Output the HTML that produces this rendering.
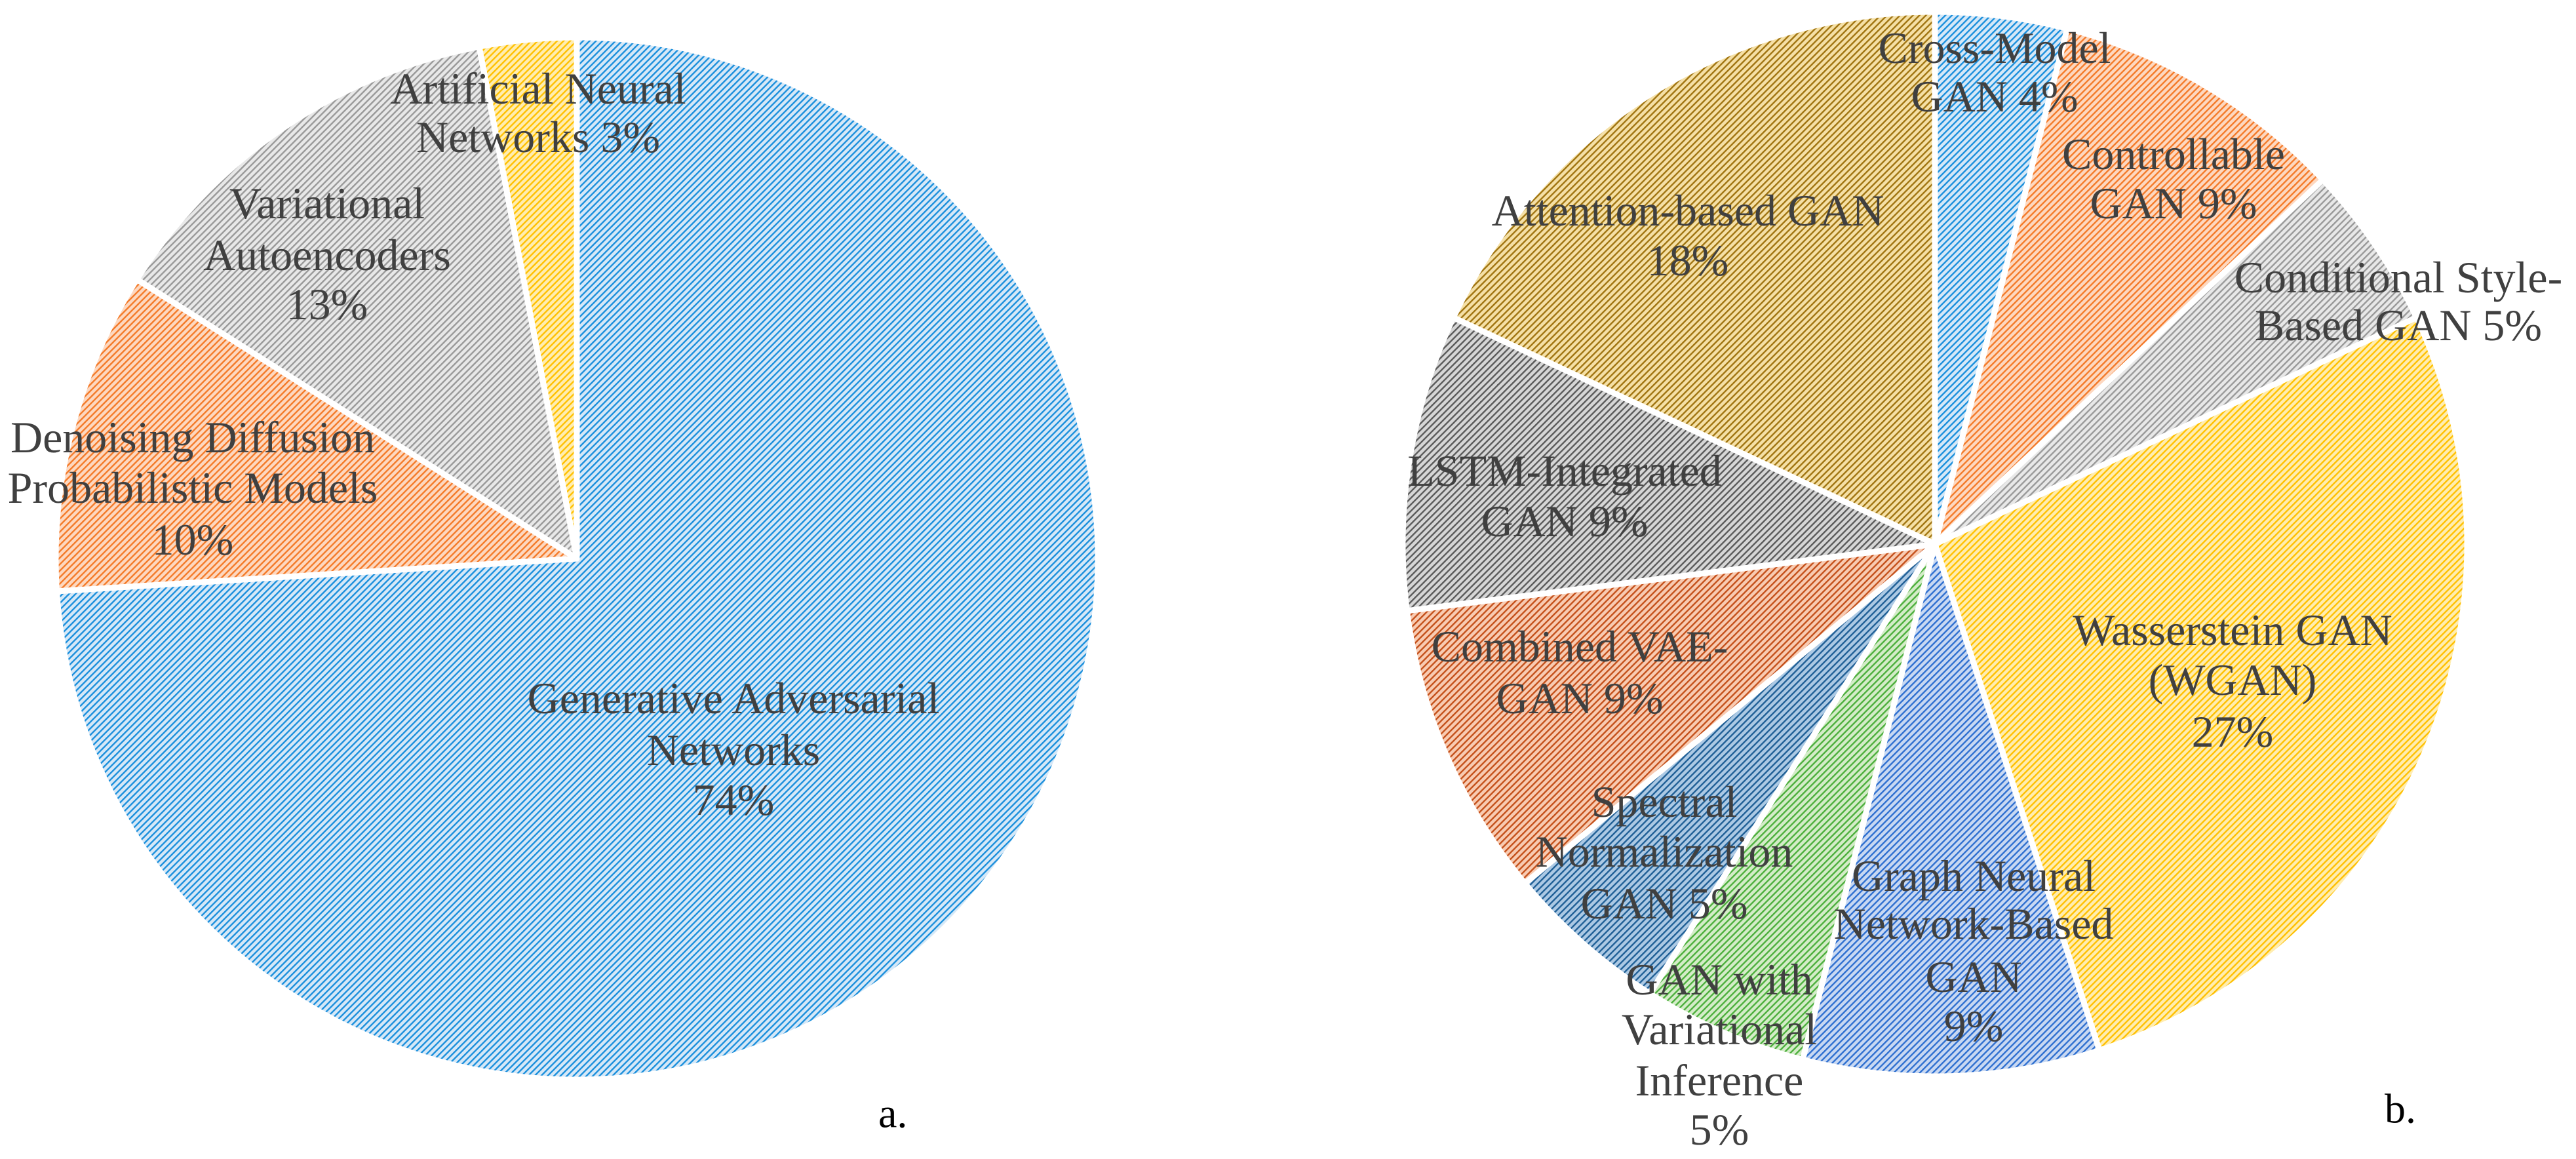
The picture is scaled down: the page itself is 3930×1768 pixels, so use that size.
<!DOCTYPE html>
<html><head><meta charset="utf-8"><style>
html,body{margin:0;padding:0;background:#fff;}
svg{display:block;}
svg text{font-family:"Liberation Serif","Times New Roman",Times,"Noto Serif CJK SC","DejaVu Serif",serif;font-size:68px;fill:#404040;text-anchor:middle;dominant-baseline:central;}
</style></head><body>
<svg id="chart" width="3930" height="1768" viewBox="0 0 3930 1768" xmlns="http://www.w3.org/2000/svg">
<defs id="defs"></defs>
<g id="pieA"></g>
<g id="pieB"></g>
<g>
<text x="821" y="135">Artificial Neural</text>
<text x="821" y="209">Networks 3%</text>
<text x="499" y="310">Variational</text>
<text x="499" y="389">Autoencoders</text>
<text x="499" y="464">13%</text>
<text x="294" y="667">Denoising Diffusion</text>
<text x="294" y="744">Probabilistic Models</text>
<text x="294" y="823">10%</text>
<text x="1119" y="1065">Generative Adversarial</text>
<text x="1119" y="1144">Networks</text>
<text x="1119" y="1220">74%</text>
<text x="1340" y="1698" style="text-anchor:start;fill:#000;font-size:64px">a.</text>
</g>
<g>
<text x="3043" y="73">Cross-Model</text>
<text x="3043" y="147">GAN 4%</text>
<text x="3316" y="235">Controllable</text>
<text x="3316" y="310">GAN 9%</text>
<text x="3659" y="423">Conditional Style-</text>
<text x="3659" y="496">Based GAN 5%</text>
<text x="2575" y="321">Attention-based GAN</text>
<text x="2575" y="397">18%</text>
<text x="2387" y="718">LSTM-Integrated</text>
<text x="2387" y="795">GAN 9%</text>
<text x="3406" y="961">Wasserstein GAN</text>
<text x="3406" y="1037">(WGAN)</text>
<text x="3406" y="1116">27%</text>
<text x="2410" y="986">Combined VAE-</text>
<text x="2410" y="1065">GAN 9%</text>
<text x="2539" y="1223">Spectral</text>
<text x="2539" y="1299">Normalization</text>
<text x="2539" y="1378">GAN 5%</text>
<text x="3011" y="1336">Graph Neural</text>
<text x="3011" y="1409">Network-Based</text>
<text x="3011" y="1490">GAN</text>
<text x="3011" y="1565">9%</text>
<text x="2623" y="1494">GAN with</text>
<text x="2623" y="1570">Variational</text>
<text x="2623" y="1648">Inference</text>
<text x="2623" y="1723">5%</text>
<text x="3638" y="1691" style="text-anchor:start;fill:#000;font-size:64px">b.</text>
</g>
</svg>
<script>
const catsA = ["Generative Adversarial Networks","Denoising Diffusion Probabilistic Models","Variational Autoencoders","Artificial Neural Networks"];
const valsA = [74, 10, 13, 3];
const catsB = ["Cross-Model GAN","Controllable GAN","Conditional Style-Based GAN","Wasserstein GAN (WGAN)","Graph Neural Network-Based GAN","GAN with Variational Inference","Spectral Normalization GAN","Combined VAE-GAN","LSTM-Integrated GAN","Attention-based GAN"];
const valsB = [4, 9, 5, 27, 9, 5, 5, 9, 9, 18];
const stylesA = [["#d6e8f7","#1a8fdc"],["#fdd8c0","#f47a28"],["#e8e8e8","#999999"],["#ffedb0","#ffc000"]];
const stylesB = [["#d6e8f7","#1a8fdc"],["#fdd8c0","#f47a28"],["#e8e8e8","#999999"],["#ffedb0","#ffc000"],["#c8d8f2","#2e6fd0"],["#d4ecc8","#4caf3c"],["#acc9e4","#1f5f96"],["#f8cbb2","#c4501a"],["#d6d6d6","#5a5a5a"],["#f5e0a6","#a07410"]];
const NS="http://www.w3.org/2000/svg";
const defs=document.getElementById('defs');
function mkPattern(id,bg,fg){
  const p=document.createElementNS(NS,'pattern');
  p.setAttribute('id',id);p.setAttribute('patternUnits','userSpaceOnUse');
  p.setAttribute('width','7');p.setAttribute('height','7');
  p.setAttribute('patternTransform','rotate(45)');
  const r=document.createElementNS(NS,'rect');r.setAttribute('width','7');r.setAttribute('height','7');r.setAttribute('fill',bg);
  const l=document.createElementNS(NS,'rect');l.setAttribute('width','2.4');l.setAttribute('height','7');l.setAttribute('fill',fg);
  p.appendChild(r);p.appendChild(l);defs.appendChild(p);
}
function drawPie(gid,cats,vals,styles,cx,cy,r,prefix){
  const g=document.getElementById(gid);
  const total=vals.reduce((a,b)=>a+b,0);
  let acc=0;
  vals.forEach((v,i)=>{
    const pid=prefix+'pat'+i;
    mkPattern(pid,styles[i][0],styles[i][1]);
    const a0=acc/total*2*Math.PI; acc+=v; const a1=acc/total*2*Math.PI;
    const x0=cx+r*Math.sin(a0),y0=cy-r*Math.cos(a0),x1=cx+r*Math.sin(a1),y1=cy-r*Math.cos(a1);
    const large=(a1-a0)>Math.PI?1:0;
    const path=document.createElementNS(NS,'path');
    path.setAttribute('d',`M${cx},${cy} L${x0},${y0} A${r},${r} 0 ${large} 1 ${x1},${y1} Z`);
    path.setAttribute('fill',`url(#${pid})`);
    path.setAttribute('stroke','#fff');path.setAttribute('stroke-width','9');path.setAttribute('stroke-linejoin','round');
    
    
    g.appendChild(path);
  });
}
drawPie('pieA',catsA,valsA,stylesA,880,852,795,'a');
drawPie('pieB',catsB,valsB,stylesB,2952,830,812,'b');
</script>
</body></html>
